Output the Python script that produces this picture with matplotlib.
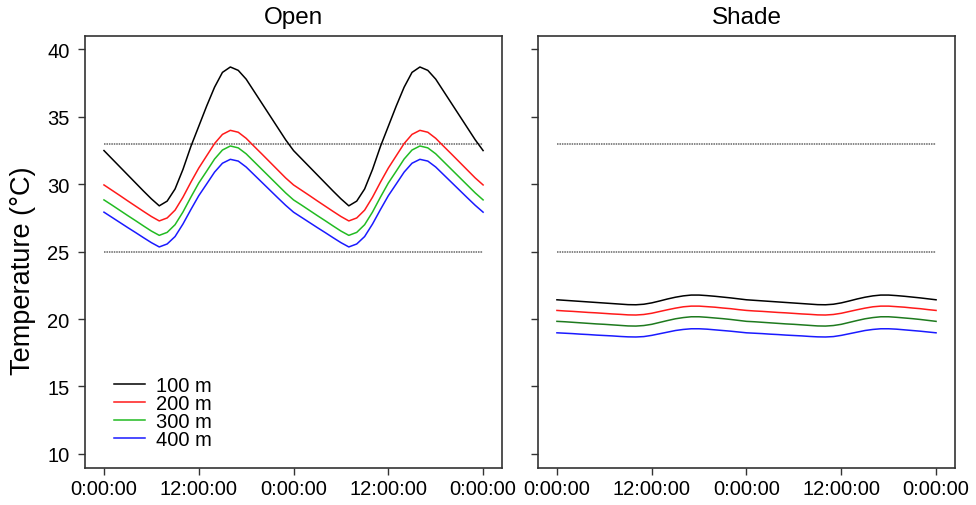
import numpy as np
import matplotlib
matplotlib.use('Agg')
import matplotlib.pyplot as plt

plt.rcParams['font.family'] = ['Liberation Sans', 'DejaVu Sans']

# hours since start, two days
hours = list(range(0, 49))
tick_hours = [0, 12, 24, 36, 48]
tick_labels = ['0:00:00', '12:00:00', '0:00:00', '12:00:00', '0:00:00']
depths = ['100 m', '200 m', '300 m', '400 m']
thresholds = [33, 25]

# Open site temperatures (hourly)
open_100 = [32.5, 31.9, 31.3, 30.7, 30.1, 29.5, 28.92, 28.4, 28.75, 29.65, 31.1, 32.8, 34.3,
            35.8, 37.2, 38.3, 38.7, 38.45, 37.8, 36.9, 36.0, 35.1, 34.2, 33.3,
            32.5, 31.9, 31.3, 30.7, 30.1, 29.5, 28.92, 28.4, 28.75, 29.65, 31.1, 32.8, 34.3,
            35.8, 37.2, 38.3, 38.7, 38.45, 37.8, 36.9, 36.0, 35.1, 34.2, 33.3, 32.5]
open_200 = [29.95, 29.56, 29.17, 28.77, 28.38, 27.99, 27.61, 27.28, 27.50, 28.08, 29.04, 30.15, 31.20,
            32.11, 33.02, 33.70, 34.0, 33.86, 33.41, 32.82, 32.24, 31.65, 31.06, 30.47,
            29.95, 29.56, 29.17, 28.77, 28.38, 27.99, 27.61, 27.28, 27.50, 28.08, 29.04, 30.15, 31.20,
            32.11, 33.02, 33.70, 34.0, 33.86, 33.41, 32.82, 32.24, 31.65, 31.06, 30.47, 29.95]
open_300 = [28.84, 28.46, 28.07, 27.68, 27.30, 26.91, 26.53, 26.21, 26.43, 27.00, 27.94, 29.04, 30.09,
            30.97, 31.87, 32.54, 32.84, 32.70, 32.26, 31.68, 31.10, 30.52, 29.94, 29.36,
            28.84, 28.46, 28.07, 27.68, 27.30, 26.91, 26.53, 26.21, 26.43, 27.00, 27.94, 29.04, 30.09,
            30.97, 31.87, 32.54, 32.84, 32.70, 32.26, 31.68, 31.10, 30.52, 29.94, 29.36, 28.84]
open_400 = [27.93, 27.55, 27.17, 26.79, 26.42, 26.04, 25.67, 25.35, 25.57, 26.12, 27.05, 28.12, 29.15,
            30.02, 30.90, 31.56, 31.85, 31.72, 31.28, 30.71, 30.14, 29.57, 29.00, 28.44,
            27.93, 27.55, 27.17, 26.79, 26.42, 26.04, 25.67, 25.35, 25.57, 26.12, 27.05, 28.12, 29.15,
            30.02, 30.90, 31.56, 31.85, 31.72, 31.28, 30.71, 30.14, 29.57, 29.00, 28.44, 27.93]

# Shade site temperatures (hourly)
shade_100 = [21.43, 21.39, 21.35, 21.31, 21.27, 21.23, 21.19, 21.15, 21.11, 21.07, 21.06, 21.10, 21.20,
             21.34, 21.49, 21.62, 21.72, 21.78, 21.78, 21.74, 21.69, 21.63, 21.57, 21.50,
             21.43, 21.39, 21.35, 21.31, 21.27, 21.23, 21.19, 21.15, 21.11, 21.07, 21.06, 21.10, 21.20,
             21.34, 21.49, 21.62, 21.72, 21.78, 21.78, 21.74, 21.69, 21.63, 21.57, 21.50, 21.43]
shade_200 = [20.64, 20.60, 20.57, 20.53, 20.49, 20.46, 20.42, 20.38, 20.35, 20.31, 20.30, 20.34, 20.43,
             20.56, 20.69, 20.81, 20.91, 20.96, 20.96, 20.92, 20.88, 20.82, 20.77, 20.70,
             20.64, 20.60, 20.57, 20.53, 20.49, 20.46, 20.42, 20.38, 20.35, 20.31, 20.30, 20.34, 20.43,
             20.56, 20.69, 20.81, 20.91, 20.96, 20.96, 20.92, 20.88, 20.82, 20.77, 20.70, 20.64]
shade_300 = [19.83, 19.80, 19.76, 19.72, 19.68, 19.64, 19.61, 19.57, 19.53, 19.49, 19.48, 19.52, 19.61,
             19.75, 19.89, 20.02, 20.11, 20.17, 20.17, 20.13, 20.08, 20.03, 19.97, 19.90,
             19.83, 19.80, 19.76, 19.72, 19.68, 19.64, 19.61, 19.57, 19.53, 19.49, 19.48, 19.52, 19.61,
             19.75, 19.89, 20.02, 20.11, 20.17, 20.17, 20.13, 20.08, 20.03, 19.97, 19.90, 19.83]
shade_400 = [18.98, 18.95, 18.92, 18.88, 18.85, 18.81, 18.78, 18.75, 18.71, 18.68, 18.67, 18.70, 18.79,
             18.91, 19.03, 19.15, 19.23, 19.28, 19.28, 19.25, 19.20, 19.15, 19.10, 19.04,
             18.98, 18.95, 18.92, 18.88, 18.85, 18.81, 18.78, 18.75, 18.71, 18.68, 18.67, 18.70, 18.79,
             18.91, 19.03, 19.15, 19.23, 19.28, 19.28, 19.25, 19.20, 19.15, 19.10, 19.04, 18.98]

open_colors = ['#000000', '#FF1A1A', '#22BB22', '#1A1AFF']
shade_colors = ['#000000', '#FF1A1A', '#1E7A1E', '#1A1AFF']


def style_axes(ax, title, show_ylabels):
    ax.set_xlim(-2.4, 50.4)
    ax.set_ylim(8.95, 41.0)
    ax.set_xticks(tick_hours)
    ax.set_xticklabels(tick_labels)
    ax.set_yticks([10, 15, 20, 25, 30, 35, 40])
    if not show_ylabels:
        ax.set_yticklabels([])
    ax.tick_params(axis='x', direction='out', length=5, width=1, pad=3, labelsize=14.5, color='#333333')
    ax.tick_params(axis='y', direction='out', length=5, width=1, pad=6, labelsize=14.5, color='#333333')
    for s in ax.spines.values():
        s.set_color('#333333')
        s.set_linewidth(1.2)
    ax.set_title(title, fontsize=17.5, pad=9)


def draw_panel(ax, series, colors):
    for th in thresholds:
        ax.plot([hours[0], hours[-1]], [th, th], color='#666666', lw=1.1, ls=(0, (1, 0.6)))
    for s, c, lab in zip(series, colors, depths):
        ax.plot(hours, s, color=c, lw=1.1, label=lab)


def main():
    fig = plt.figure(figsize=(9.76, 5.06), dpi=100)
    ax1 = fig.add_axes([0.0871, 0.0731, 0.4273, 0.8538])
    ax2 = fig.add_axes([0.5512, 0.0731, 0.4273, 0.8538])

    draw_panel(ax1, [open_100, open_200, open_300, open_400], open_colors)
    draw_panel(ax2, [shade_100, shade_200, shade_300, shade_400], shade_colors)

    style_axes(ax1, 'Open', True)
    style_axes(ax2, 'Shade', False)

    ax1.legend(loc='lower left', bbox_to_anchor=(0.069, 0.045), frameon=False, fontsize=14.5,
               handlelength=1.55, handletextpad=0.55, labelspacing=-0.05, borderpad=0, borderaxespad=0)

    fig.text(0.024, 0.464, 'Temperature (\u00b0C)', rotation=90, fontsize=19.5, ha='center', va='center')

    fig.savefig('out.png', dpi=100)


main()
